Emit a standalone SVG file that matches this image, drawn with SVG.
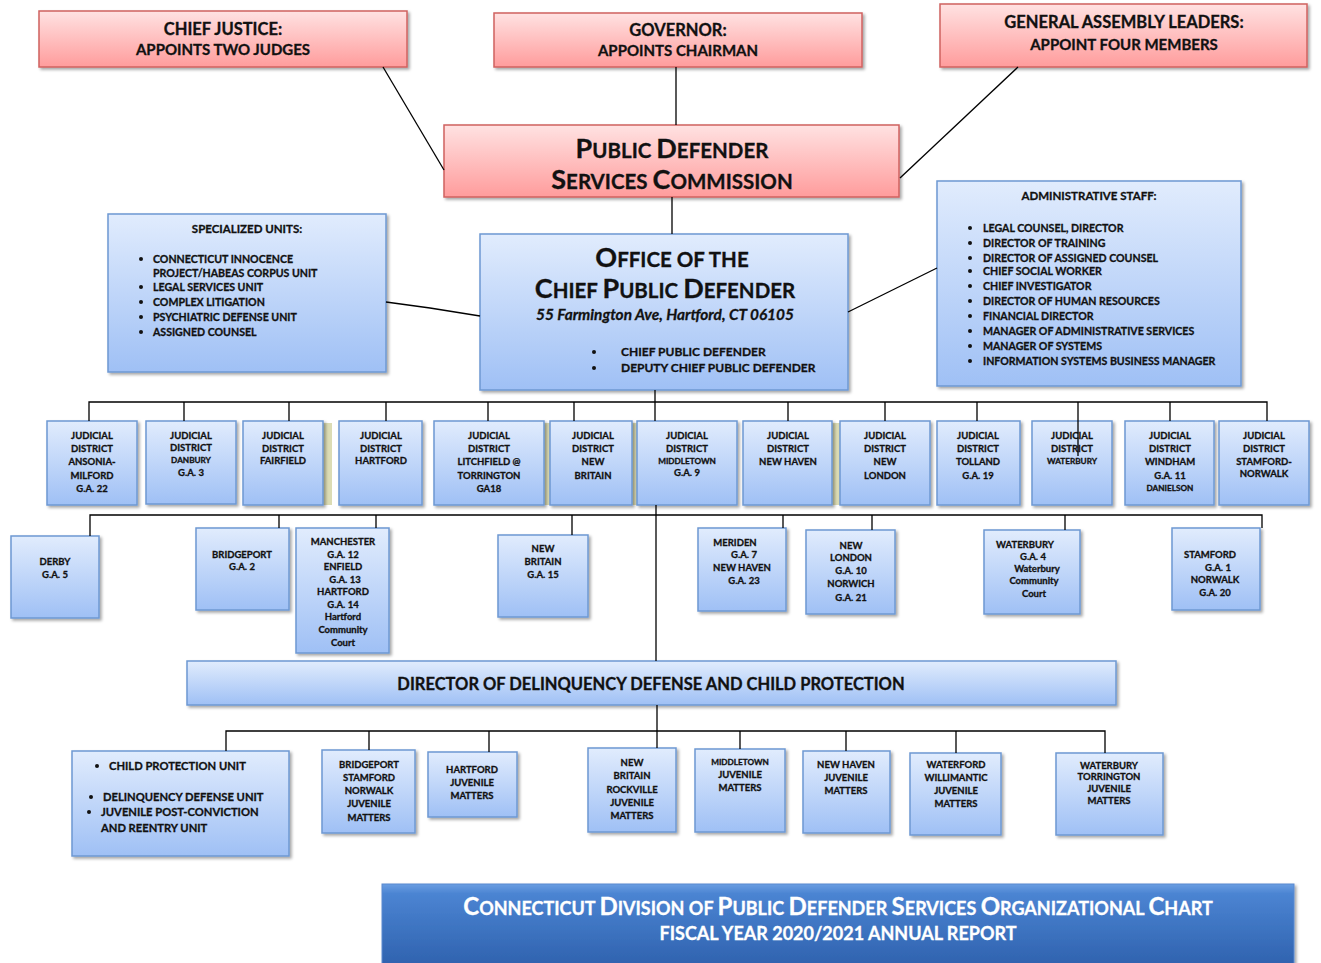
<svg xmlns="http://www.w3.org/2000/svg" width="1321" height="963" viewBox="0 0 1321 963">
<defs>
<linearGradient id="gRed" x1="0" y1="0" x2="0" y2="1"><stop offset="0" stop-color="#ffe2e2"/><stop offset="1" stop-color="#ff9c9c"/></linearGradient>
<linearGradient id="gBlue" x1="0" y1="0" x2="0" y2="1"><stop offset="0" stop-color="#e1ecfd"/><stop offset="1" stop-color="#9fc0f5"/></linearGradient>
<linearGradient id="gFoot" x1="0" y1="0" x2="0" y2="1"><stop offset="0" stop-color="#6a9ee2"/><stop offset="0.12" stop-color="#4b84d2"/><stop offset="1" stop-color="#2f62ae"/></linearGradient>
<filter id="sh" x="-10%" y="-10%" width="130%" height="130%"><feDropShadow dx="2" dy="2" stdDeviation="1.5" flood-color="#000" flood-opacity="0.35"/></filter>
</defs>
<style>
.rb{fill:url(#gRed);stroke:#d0625f;stroke-width:1.5;filter:url(#sh)}
.bb{fill:url(#gBlue);stroke:#6e98d2;stroke-width:1.5;filter:url(#sh)}
.kh{fill:#dcdcb4}
text{font-family:Lato,"Liberation Sans",sans-serif;font-weight:700;fill:#111;stroke:#111;stroke-width:0.3px}
.m{text-anchor:middle}
.t16{font-size:16.5px}
.t15{font-size:15px}
.th{font-size:11.5px}
.tl{font-size:10.6px}
.to{font-size:12px}
.t9{font-size:9.5px}
.t8s{font-size:8.2px}
.cap{font-size:20.5px}
.big{font-size:27px}
.fc{font-size:18px;fill:#fff;stroke:#fff}
.fb{font-size:24px}
.c{stroke:#000;stroke-width:1.3;fill:none}
.bul{fill:#111}
</style>

<g id="chief-justice"><rect class="rb" x="39" y="11" width="368" height="56"/><text class="t16 m" x="223" y="35">CHIEF JUSTICE:</text><text class="t15 m" x="223" y="55">APPOINTS TWO JUDGES</text></g>
<g id="governor"><rect class="rb" x="494" y="13" width="368" height="54"/><text class="t16 m" x="678" y="36">GOVERNOR:</text><text class="t15 m" x="678" y="56">APPOINTS CHAIRMAN</text></g>
<g id="general-assembly"><rect class="rb" x="940" y="4" width="367" height="63"/><text class="t16 m" x="1124" y="28">GENERAL ASSEMBLY LEADERS:</text><text class="t15 m" x="1124" y="50">APPOINT FOUR MEMBERS</text></g>
<g id="commission"><rect class="rb" x="444" y="125" width="455" height="72"/>
<text class="cap m" x="672" y="158"><tspan class="big">P</tspan>UBLIC <tspan class="big">D</tspan>EFENDER</text>
<text class="cap m" x="672" y="189"><tspan class="big">S</tspan>ERVICES <tspan class="big">C</tspan>OMMISSION</text></g>

<g id="specialized-units"><rect class="bb" x="108" y="214" width="278" height="158"/>
<text class="th m" x="247" y="233">SPECIALIZED UNITS:</text>
<circle class="bul" cx="141" cy="259" r="2"/><text class="tl" x="153" y="263">CONNECTICUT INNOCENCE</text>
<text class="tl" x="153" y="277">PROJECT/HABEAS CORPUS UNIT</text>
<circle class="bul" cx="141" cy="287" r="2"/><text class="tl" x="153" y="291">LEGAL SERVICES UNIT</text>
<circle class="bul" cx="141" cy="302" r="2"/><text class="tl" x="153" y="306">COMPLEX LITIGATION</text>
<circle class="bul" cx="141" cy="317" r="2"/><text class="tl" x="153" y="321">PSYCHIATRIC DEFENSE UNIT</text>
<circle class="bul" cx="141" cy="332" r="2"/><text class="tl" x="153" y="336">ASSIGNED COUNSEL</text></g>

<g id="office"><rect class="bb" x="480" y="234" width="368" height="156"/>
<text class="cap m" x="672" y="267"><tspan class="big">O</tspan>FFICE OF THE</text>
<text class="cap m" x="665" y="298"><tspan class="big">C</tspan>HIEF <tspan class="big">P</tspan>UBLIC <tspan class="big">D</tspan>EFENDER</text>
<text class="m" x="665" y="320" style="font-size:15.4px;font-style:italic">55 Farmington Ave, Hartford, CT 06105</text>
<circle class="bul" cx="594" cy="352" r="2"/><text class="to" x="621" y="356">CHIEF PUBLIC DEFENDER</text>
<circle class="bul" cx="594" cy="368" r="2"/><text class="to" x="621" y="372">DEPUTY CHIEF PUBLIC DEFENDER</text></g>

<g id="admin-staff"><rect class="bb" x="937" y="181" width="304" height="205"/>
<text class="th m" x="1089" y="200">ADMINISTRATIVE STAFF:</text>
<circle class="bul" cx="970" cy="228" r="2"/><text class="tl" x="983" y="232">LEGAL COUNSEL, DIRECTOR</text>
<circle class="bul" cx="970" cy="243" r="2"/><text class="tl" x="983" y="247">DIRECTOR OF TRAINING</text>
<circle class="bul" cx="970" cy="258" r="2"/><text class="tl" x="983" y="262">DIRECTOR OF ASSIGNED COUNSEL</text>
<circle class="bul" cx="970" cy="271" r="2"/><text class="tl" x="983" y="275">CHIEF SOCIAL WORKER</text>
<circle class="bul" cx="970" cy="286" r="2"/><text class="tl" x="983" y="290">CHIEF INVESTIGATOR</text>
<circle class="bul" cx="970" cy="301" r="2"/><text class="tl" x="983" y="305">DIRECTOR OF HUMAN RESOURCES</text>
<circle class="bul" cx="970" cy="316" r="2"/><text class="tl" x="983" y="320">FINANCIAL DIRECTOR</text>
<circle class="bul" cx="970" cy="331" r="2"/><text class="tl" x="983" y="335">MANAGER OF ADMINISTRATIVE SERVICES</text>
<circle class="bul" cx="970" cy="346" r="2"/><text class="tl" x="983" y="350">MANAGER OF SYSTEMS</text>
<circle class="bul" cx="970" cy="361" r="2"/><text class="tl" x="983" y="365">INFORMATION SYSTEMS BUSINESS MANAGER</text></g>

<rect class="kh" x="323" y="423" width="9" height="82"/>
<rect class="kh" x="544" y="423" width="7" height="82"/>
<rect class="kh" x="632" y="423" width="6" height="82"/>
<rect class="kh" x="832" y="423" width="9" height="82"/>

<g id="jd-ansonia"><rect class="bb" x="47" y="421" width="90" height="84"/><text class="t9 m" x="92"><tspan x="92" y="439">JUDICIAL</tspan><tspan x="92" y="452">DISTRICT</tspan><tspan x="92" y="465">ANSONIA-</tspan><tspan x="92" y="479">MILFORD</tspan><tspan x="92" y="492">G.A. 22</tspan></text></g>
<g id="jd-danbury"><rect class="bb" x="146" y="421" width="90" height="83"/><text class="t9 m" x="191"><tspan x="191" y="439">JUDICIAL</tspan><tspan x="191" y="451">DISTRICT</tspan><tspan x="191" y="463" class="t8s">DANBURY</tspan><tspan x="191" y="476">G.A. 3</tspan></text></g>
<g id="jd-fairfield"><rect class="bb" x="243" y="421" width="80" height="84"/><text class="t9 m" x="283"><tspan x="283" y="439">JUDICIAL</tspan><tspan x="283" y="452">DISTRICT</tspan><tspan x="283" y="464">FAIRFIELD</tspan></text></g>
<g id="jd-hartford"><rect class="bb" x="339" y="421" width="83" height="84"/><text class="t9 m" x="381"><tspan x="381" y="439">JUDICIAL</tspan><tspan x="381" y="452">DISTRICT</tspan><tspan x="381" y="464">HARTFORD</tspan></text></g>
<g id="jd-litchfield"><rect class="bb" x="434" y="421" width="110" height="84"/><text class="t9 m" x="489"><tspan x="489" y="439">JUDICIAL</tspan><tspan x="489" y="452">DISTRICT</tspan><tspan x="489" y="465">LITCHFIELD @</tspan><tspan x="489" y="479">TORRINGTON</tspan><tspan x="489" y="492">GA18</tspan></text></g>
<g id="jd-new-britain"><rect class="bb" x="550" y="421" width="82" height="84"/><text class="t9 m" x="593"><tspan x="593" y="439">JUDICIAL</tspan><tspan x="593" y="452">DISTRICT</tspan><tspan x="593" y="465">NEW</tspan><tspan x="593" y="479">BRITAIN</tspan></text></g>
<g id="jd-middletown"><rect class="bb" x="637" y="421" width="100" height="84"/><text class="t9 m" x="687"><tspan x="687" y="439">JUDICIAL</tspan><tspan x="687" y="452">DISTRICT</tspan><tspan x="687" y="464" class="t8s">MIDDLETOWN</tspan><tspan x="687" y="476">G.A. 9</tspan></text></g>
<g id="jd-new-haven"><rect class="bb" x="743" y="421" width="89" height="84"/><text class="t9 m" x="788"><tspan x="788" y="439">JUDICIAL</tspan><tspan x="788" y="452">DISTRICT</tspan><tspan x="788" y="465">NEW HAVEN</tspan></text></g>
<g id="jd-new-london"><rect class="bb" x="840" y="421" width="90" height="84"/><text class="t9 m" x="885"><tspan x="885" y="439">JUDICIAL</tspan><tspan x="885" y="452">DISTRICT</tspan><tspan x="885" y="465">NEW</tspan><tspan x="885" y="479">LONDON</tspan></text></g>
<g id="jd-tolland"><rect class="bb" x="937" y="421" width="83" height="84"/><text class="t9 m" x="978"><tspan x="978" y="439">JUDICIAL</tspan><tspan x="978" y="452">DISTRICT</tspan><tspan x="978" y="465">TOLLAND</tspan><tspan x="978" y="479">G.A. 19</tspan></text></g>
<g id="jd-waterbury"><rect class="bb" x="1032" y="421" width="80" height="84"/><text class="t9 m" x="1072"><tspan x="1072" y="439">JUDICIAL</tspan><tspan x="1072" y="452">DISTRICT</tspan><tspan x="1072" y="464" class="t8s">WATERBURY</tspan></text></g>
<g id="jd-windham"><rect class="bb" x="1125" y="421" width="89" height="84"/><text class="t9 m" x="1170"><tspan x="1170" y="439">JUDICIAL</tspan><tspan x="1170" y="452">DISTRICT</tspan><tspan x="1170" y="465">WINDHAM</tspan><tspan x="1170" y="479">G.A. 11</tspan><tspan x="1170" y="491" class="t8s">DANIELSON</tspan></text></g>
<g id="jd-stamford"><rect class="bb" x="1219" y="421" width="90" height="84"/><text class="t9 m" x="1264"><tspan x="1264" y="439">JUDICIAL</tspan><tspan x="1264" y="452">DISTRICT</tspan><tspan x="1264" y="465">STAMFORD-</tspan><tspan x="1264" y="477">NORWALK</tspan></text></g>

<g id="ga-derby"><rect class="bb" x="11" y="536" width="88" height="82"/><text class="t9 m" x="55"><tspan x="55" y="565">DERBY</tspan><tspan x="55" y="578">G.A. 5</tspan></text></g>
<g id="ga-bridgeport"><rect class="bb" x="196" y="528" width="93" height="82"/><text class="t9 m" x="242"><tspan x="242" y="558">BRIDGEPORT</tspan><tspan x="242" y="570">G.A. 2</tspan></text></g>
<g id="ga-manchester"><rect class="bb" x="296" y="528" width="93" height="125"/><text class="t9 m" x="343"><tspan x="343" y="545">MANCHESTER</tspan><tspan x="343" y="558">G.A. 12</tspan><tspan x="343" y="570">ENFIELD</tspan><tspan x="345" y="583">G.A. 13</tspan><tspan x="343" y="595">HARTFORD</tspan><tspan x="343" y="608">G.A. 14</tspan><tspan x="343" y="620">Hartford</tspan><tspan x="343" y="633">Community</tspan><tspan x="343" y="646">Court</tspan></text></g>
<g id="ga-new-britain"><rect class="bb" x="498" y="535" width="90" height="82"/><text class="t9 m" x="543"><tspan x="543" y="552">NEW</tspan><tspan x="543" y="565">BRITAIN</tspan><tspan x="543" y="578">G.A. 15</tspan></text></g>
<g id="ga-meriden"><rect class="bb" x="698" y="528" width="88" height="83"/><text class="t9 m" x="742"><tspan x="735" y="546">MERIDEN</tspan><tspan x="744" y="558">G.A. 7</tspan><tspan x="742" y="571">NEW HAVEN</tspan><tspan x="744" y="584">G.A. 23</tspan></text></g>
<g id="ga-new-london"><rect class="bb" x="806" y="530" width="89" height="84"/><text class="t9 m" x="851"><tspan x="851" y="549">NEW</tspan><tspan x="851" y="561">LONDON</tspan><tspan x="851" y="574">G.A. 10</tspan><tspan x="851" y="587">NORWICH</tspan><tspan x="851" y="601">G.A. 21</tspan></text></g>
<g id="ga-waterbury"><rect class="bb" x="984" y="530" width="96" height="84"/><text class="t9 m" x="1033"><tspan x="1025" y="548">WATERBURY</tspan><tspan x="1033" y="560">G.A. 4</tspan><tspan x="1037" y="572">Waterbury</tspan><tspan x="1034" y="584">Community</tspan><tspan x="1034" y="597">Court</tspan></text></g>
<g id="ga-stamford"><rect class="bb" x="1172" y="528" width="88" height="82"/><text class="t9 m" x="1214"><tspan x="1210" y="558">STAMFORD</tspan><tspan x="1218" y="571">G.A. 1</tspan><tspan x="1215" y="583">NORWALK</tspan><tspan x="1215" y="596">G.A. 20</tspan></text></g>

<g id="director"><rect class="bb" x="187" y="661" width="929" height="44"/><text class="m" x="651" y="690" style="font-size:16.5px">DIRECTOR OF DELINQUENCY DEFENSE AND CHILD PROTECTION</text></g>

<g id="child-protection"><rect class="bb" x="72" y="751" width="217" height="105"/>
<circle class="bul" cx="97" cy="766" r="2"/><text x="109" y="770" style="font-size:11.2px">CHILD PROTECTION UNIT</text>
<circle class="bul" cx="91" cy="797" r="2"/><text x="103" y="801" style="font-size:11.2px">DELINQUENCY DEFENSE UNIT</text>
<circle class="bul" cx="89" cy="812" r="2"/><text x="101" y="816" style="font-size:11.2px">JUVENILE POST-CONVICTION</text>
<text x="101" y="832" style="font-size:11.2px">AND REENTRY UNIT</text></g>
<g id="jm-bridgeport"><rect class="bb" x="322" y="750" width="93" height="83"/><text class="t9 m" x="369"><tspan x="369" y="768">BRIDGEPORT</tspan><tspan x="369" y="781">STAMFORD</tspan><tspan x="369" y="794">NORWALK</tspan><tspan x="369" y="807">JUVENILE</tspan><tspan x="369" y="821">MATTERS</tspan></text></g>
<g id="jm-hartford"><rect class="bb" x="428" y="752" width="89" height="65"/><text class="t9 m" x="472"><tspan x="472" y="773">HARTFORD</tspan><tspan x="472" y="786">JUVENILE</tspan><tspan x="472" y="799">MATTERS</tspan></text></g>
<g id="jm-new-britain"><rect class="bb" x="588" y="748" width="88" height="84"/><text class="t9 m" x="632"><tspan x="632" y="766">NEW</tspan><tspan x="632" y="779">BRITAIN</tspan><tspan x="632" y="793">ROCKVILLE</tspan><tspan x="632" y="806">JUVENILE</tspan><tspan x="632" y="819">MATTERS</tspan></text></g>
<g id="jm-middletown"><rect class="bb" x="695" y="749" width="90" height="83"/><text class="t9 m" x="740"><tspan x="740" y="765" class="t8s">MIDDLETOWN</tspan><tspan x="740" y="778">JUVENILE</tspan><tspan x="740" y="791">MATTERS</tspan></text></g>
<g id="jm-new-haven"><rect class="bb" x="803" y="751" width="87" height="82"/><text class="t9 m" x="846"><tspan x="846" y="768">NEW HAVEN</tspan><tspan x="846" y="781">JUVENILE</tspan><tspan x="846" y="794">MATTERS</tspan></text></g>
<g id="jm-waterford"><rect class="bb" x="910" y="753" width="91" height="82"/><text class="t9 m" x="956"><tspan x="956" y="768">WATERFORD</tspan><tspan x="956" y="781">WILLIMANTIC</tspan><tspan x="956" y="794">JUVENILE</tspan><tspan x="956" y="807">MATTERS</tspan></text></g>
<g id="jm-waterbury"><rect class="bb" x="1056" y="753" width="107" height="82"/><text class="t9 m" x="1109"><tspan x="1109" y="769">WATERBURY</tspan><tspan x="1109" y="780">TORRINGTON</tspan><tspan x="1109" y="792">JUVENILE</tspan><tspan x="1109" y="804">MATTERS</tspan></text></g>

<g id="footer"><rect x="382" y="884" width="912" height="82" fill="url(#gFoot)" stroke="#5a8ad0" stroke-width="1" filter="url(#sh)"/>
<text class="fc m" x="838" y="915"><tspan class="fb">C</tspan>ONNECTICUT <tspan class="fb">D</tspan>IVISION OF <tspan class="fb">P</tspan>UBLIC <tspan class="fb">D</tspan>EFENDER <tspan class="fb">S</tspan>ERVICES <tspan class="fb">O</tspan>RGANIZATIONAL <tspan class="fb">C</tspan>HART</text>
<text class="fc m" x="838" y="940">FISCAL YEAR 2020/2021 ANNUAL REPORT</text></g>

<g id="connectors">
<path class="c" d="M383,67 L444,170"/>
<path class="c" d="M676,67 V125"/>
<path class="c" d="M1018,67 L900,178"/>
<path class="c" d="M672,197 V234"/>
<path class="c" d="M386,302 L430,308 L480,316"/>
<path class="c" d="M848,312 L937,268"/>
<path class="c" d="M655,390 V402"/>
<path class="c" d="M89,421 V402 H1267 V421"/>
<path class="c" d="M184,402 V421 M289,402 V421 M386,402 V421 M488,402 V421 M574,402 V421 M655,402 V421 M788,402 V421 M885,402 V421 M977,402 V421 M1078,402 V456 M1170,402 V421"/>
<path class="c" d="M656,505 V661"/>
<path class="c" d="M90,536 V515 H1262 V528"/>
<path class="c" d="M279,515 V528 M376,515 V528 M572,515 V535 M783,515 V528 M872,515 V530 M1065,515 V530"/>
<path class="c" d="M657,705 V748"/>
<path class="c" d="M226,751 V731 H1105 V753"/>
<path class="c" d="M369,731 V750 M489,731 V752 M740,731 V749 M846,731 V751 M956,731 V753"/>
</g>
</svg>
